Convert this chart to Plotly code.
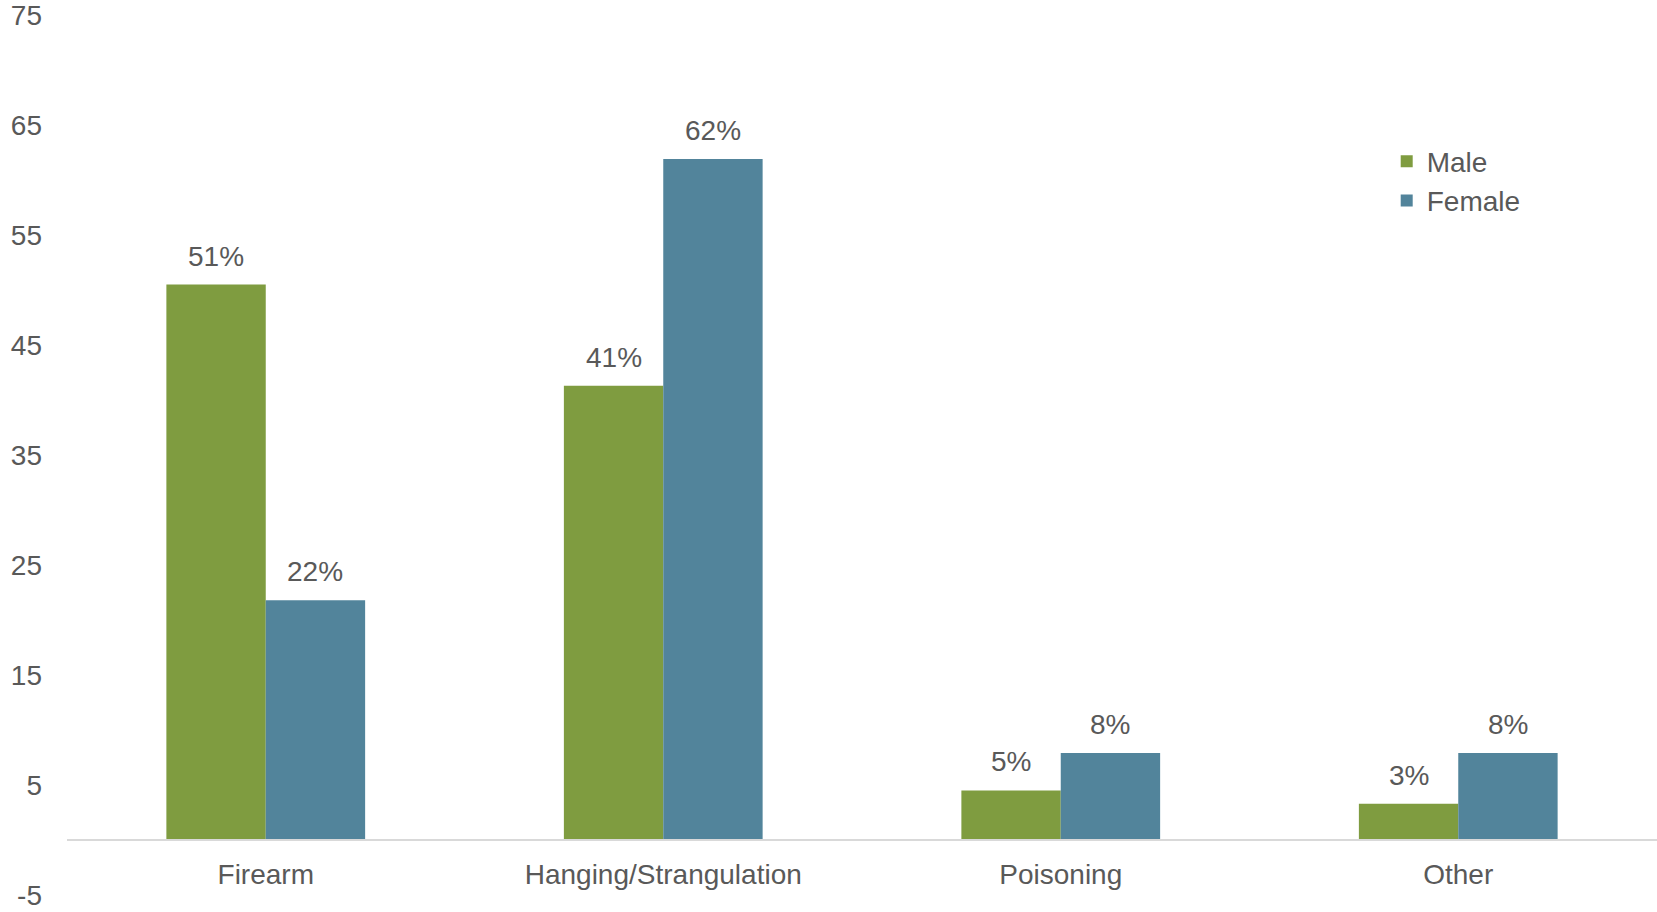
import plotly.graph_objects as go

categories = ["Firearm", "Hanging/Strangulation", "Poisoning", "Other"]
male_values = [50.5, 41.3, 4.5, 3.3]
female_values = [21.8, 61.9, 7.9, 7.9]
male_labels = ["51%", "41%", "5%", "3%"]
female_labels = ["22%", "62%", "8%", "8%"]
y_ticks = [-5, 5, 15, 25, 35, 45, 55, 65, 75]

GREEN = "#7F9C40"
BLUE = "#52849B"
TXT = "#595959"
FONT = "Liberation Sans, Arial, sans-serif"

fig = go.Figure()
fig.add_trace(go.Bar(name="Male", x=categories, y=male_values, marker_color=GREEN,
                     marker_line_width=0))
fig.add_trace(go.Bar(name="Female", x=categories, y=female_values, marker_color=BLUE,
                     marker_line_width=0))

bargap = 0.5
half = (1 - bargap) / 4
for i, (v, t) in enumerate(zip(male_values, male_labels)):
    fig.add_annotation(x=i - half, y=v, text=t, showarrow=False, xref="x", yref="y",
                       yanchor="bottom", yshift=11, font=dict(size=28, color=TXT, family=FONT))
for i, (v, t) in enumerate(zip(female_values, female_labels)):
    fig.add_annotation(x=i + half, y=v, text=t, showarrow=False, xref="x", yref="y",
                       yanchor="bottom", yshift=11, font=dict(size=28, color=TXT, family=FONT))

ymin, ymax = y_ticks[0], y_ticks[-1]
eps = 0.001
fig.update_layout(
    width=1657, height=912,
    margin=dict(l=67, r=0, t=15, b=17, autoexpand=False),
    paper_bgcolor="white", plot_bgcolor="white",
    barmode="group", bargap=bargap, bargroupgap=0,
    font=dict(family=FONT, size=28, color=TXT),
    showlegend=True,
    legend=dict(x=0.83, y=0.862, xanchor="left", yanchor="top",
                font=dict(size=28, color=TXT), bgcolor="rgba(0,0,0,0)",
                itemwidth=30, tracegroupgap=0),
    xaxis=dict(anchor="free", position=(0 - ymin) / (ymax - ymin),
               showline=True, linecolor="#D9D9D9", linewidth=2, automargin=False,
               showgrid=False, ticks="", tickfont=dict(size=28, color=TXT),
               ticklabelstandoff=9),
    yaxis=dict(range=[ymin - eps, ymax + eps], tickmode="array", tickvals=y_ticks,
               ticktext=[str(v) for v in y_ticks], automargin=False,
               ticklabeloverflow="allow",
               showgrid=False, zeroline=False,
               showline=False, ticks="", tickfont=dict(size=28, color=TXT),
               ticklabelstandoff=24),
)

fig.write_html("out.html", config={"displayModeBar": False},
               post_script="document.body.style.margin='0';document.body.style.overflow='hidden';")
